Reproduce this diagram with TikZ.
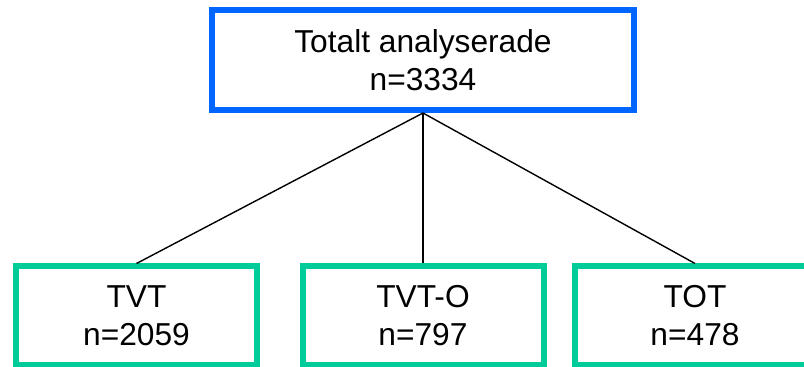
\documentclass[tikz,border=0pt]{standalone}
\usepackage{fontspec}
\setmainfont{Liberation Sans}
\definecolor{framecol}{RGB}{0,102,255}
\definecolor{armcol}{RGB}{0,204,153}

\begin{document}
\begin{tikzpicture}[x=1pt, y=1pt, every node/.style={align=center, font=\fontsize{31.7}{38}\selectfont}]
            \useasboundingbox (0,0) rectangle (804,367);
            \node[fill=white,draw=framecol,line width=6pt,minimum width=422pt,minimum height=100pt] (total) at (423,307) {Totalt analyserade\\n=3334};
            \node[fill=white,draw=armcol,line width=6pt,minimum width=241pt,minimum height=99pt] (tvto) [below of=total,node distance=256pt] {TVT-O\\n=797};
            \node[fill=white,draw=armcol,line width=6pt,minimum width=241pt,minimum height=99pt] (tvt) [left of=tvto,node distance=286.5pt] {TVT\\n=2059};
            \node[fill=white,draw=armcol,line width=6pt,minimum width=241pt,minimum height=99pt] (totgrp) [right of=tvto,node distance=272pt] {TOT\\n=478};

            \draw [line width=1.4pt]  (total.south) edge [] (tvt.north)
                                (total.south) edge [] (tvto.north)
                                (total.south) edge [] (totgrp.north);
        \end{tikzpicture}
\end{document}
